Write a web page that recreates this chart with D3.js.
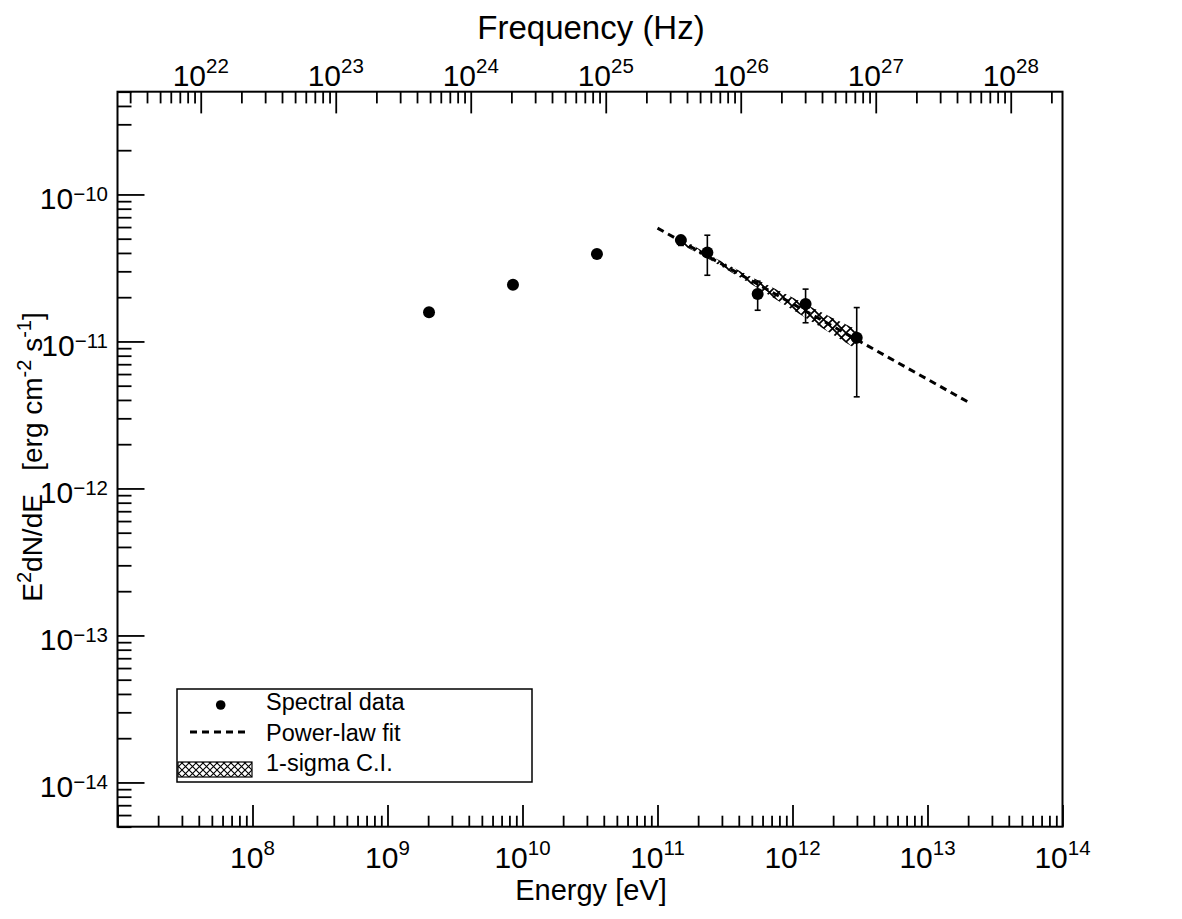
<!DOCTYPE html>
<html>
<head>
<meta charset="utf-8">
<script src="https://cdn.jsdelivr.net/npm/d3@7"></script>
<style>
body{margin:0;background:#fff;}
text{font-family:"Liberation Sans",Arial,Helvetica,sans-serif;fill:#000;}
</style>
</head>
<body>
<svg id="chart" width="1182" height="919"></svg>
<script>
// spectral points (eV, erg cm-2 s-1)
var energy = [2.03e9, 8.5e9, 3.56e10, 1.49e11, 2.34e11, 5.52e11, 1.25e12, 2.99e12];
var flux   = [1.58e-11, 2.43e-11, 3.93e-11, 4.89e-11, 4.03e-11, 2.10e-11, 1.80e-11, 1.06e-11];
var fluxLo = [null, null, null, 4.5e-11, 2.82e-11, 1.63e-11, 1.34e-11, 4.2e-12];
var fluxHi = [null, null, null, 5.2e-11, 5.28e-11, 2.57e-11, 2.27e-11, 1.70e-11];

// power-law fit end points
var fitE = [1e11, 2e13];
var fitF = [5.9e-11, 3.87e-12];

// 1-sigma band
var bandE  = [1.49e11, 2.5e11, 5e11, 1e12, 2e12, 3e12];
var bandLo = [4.59e-11, 3.56e-11, 2.44e-11, 1.64e-11, 1.11e-11, 8.8e-12];
var bandHi = [5.04e-11, 3.82e-11, 2.73e-11, 1.99e-11, 1.44e-11, 1.20e-11];

// tick labels (powers of ten)
var xTickExp   = [8, 9, 10, 11, 12, 13, 14];
var yTickExp   = [-10, -11, -12, -13, -14];
var topTickExp = [22, 23, 24, 25, 26, 27, 28];

var legendLabels = ["Spectral data", "Power-law fit", "1-sigma C.I."];

var hPlanck = 4.135667696e-15; // eV s

var L = 117.5, R = 1062.5, T = 91.7, B = 826.7;
var svg = d3.select("#chart");

var x = d3.scaleLog().domain([1e7, 1e14]).range([L, R]);
var y = d3.scaleLog().domain([5e-15, 5e-10]).range([B, T]);
var xTop = d3.scaleLog().domain([1e7 / hPlanck, 1e14 / hPlanck]).range([L, R]);

function minorTicks(dom){
    var out = [];
    var lo = Math.floor(Math.log10(dom[0])), hi = Math.ceil(Math.log10(dom[1]));
    for (var k = lo; k <= hi; k++){
        for (var m = 2; m <= 9; m++){
            var v = m * Math.pow(10, k);
            if (v >= dom[0] && v <= dom[1]) out.push(v);
        }
    }
    return out;
}
function pow10(list){ return list.map(function(e){ return Math.pow(10, e); }); }

function drawAxis(axis, tr){
    var g = svg.append("g").attr("transform", tr).call(axis);
    g.select(".domain").remove();
    g.selectAll("line").attr("stroke", "#000").attr("stroke-width", 1.8);
    return g;
}

// bottom
drawAxis(d3.axisBottom(x).tickValues(minorTicks(x.domain())).tickSize(-11).tickFormat(""), "translate(0," + B + ")");
drawAxis(d3.axisBottom(x).tickValues(pow10([7].concat(xTickExp))).tickSize(-21.7).tickFormat(""), "translate(0," + B + ")");
// top
drawAxis(d3.axisTop(xTop).tickValues(minorTicks(xTop.domain())).tickSize(-11.7).tickFormat(""), "translate(0," + T + ")");
drawAxis(d3.axisTop(xTop).tickValues(pow10(topTickExp)).tickSize(-21.7).tickFormat(""), "translate(0," + T + ")");
// left
drawAxis(d3.axisLeft(y).tickValues(minorTicks(y.domain())).tickSize(-14).tickFormat(""), "translate(" + L + ",0)");
drawAxis(d3.axisLeft(y).tickValues(pow10(yTickExp)).tickSize(-27).tickFormat(""), "translate(" + L + ",0)");

// frame
svg.append("rect").attr("x", L).attr("y", T).attr("width", R - L).attr("height", B - T)
    .attr("fill", "none").attr("stroke", "#000").attr("stroke-width", 2);

function powLabel(g, px, py, exp, anchor, rise){
    var t = g.append("text").attr("x", px).attr("y", py).attr("text-anchor", anchor)
        .attr("font-size", 30);
    t.append("tspan").text("10");
    t.append("tspan").attr("font-size", 20.5).attr("dy", -rise)
        .text(exp < 0 ? "\u2212" + (-exp) : exp);
}

var labels = svg.append("g");
xTickExp.forEach(function(e){ powLabel(labels, x(Math.pow(10, e)), 868.3, e, "middle", 13); });
topTickExp.forEach(function(e){ powLabel(labels, xTop(Math.pow(10, e)), 85.7, e, "middle", 12.5); });
yTickExp.forEach(function(e){ powLabel(labels, 108, y(Math.pow(10, e)) + 15, e, "end", 8); });

// titles
svg.append("text").attr("x", 591).attr("y", 39.3).attr("text-anchor", "middle")
    .attr("font-size", 33).text("Frequency (Hz)");
svg.append("text").attr("x", 591).attr("y", 900).attr("text-anchor", "middle")
    .attr("font-size", 29).text("Energy [eV]");

var yl = svg.append("text").attr("transform", "translate(42,457) rotate(-90)")
    .attr("text-anchor", "middle").attr("font-size", 28);
yl.append("tspan").text("E");
yl.append("tspan").attr("font-size", 20).attr("dy", -11).text("2");
yl.append("tspan").attr("dy", 11).text("dN/dE\u00a0\u00a0\u00a0[erg cm");
yl.append("tspan").attr("font-size", 20).attr("dy", -11).text("-2");
yl.append("tspan").attr("dy", 11).text(" s");
yl.append("tspan").attr("font-size", 20).attr("dy", -11).text("-1");
yl.append("tspan").attr("dy", 11).text("]");

// hatch patterns
var defs = svg.append("defs");
function hatch(id, s, w){
    defs.append("pattern").attr("id", id).attr("patternUnits", "userSpaceOnUse")
        .attr("width", s).attr("height", s)
        .append("path").attr("d", "M0,0L" + s + "," + s + "M" + s + ",0L0," + s)
        .attr("stroke", "#000").attr("stroke-width", w);
}
hatch("xhatch", 9, 1.7);
hatch("xhatchLeg", 7, 1.1);

// band
var band = bandE.map(function(e, i){ return {e: e, lo: bandLo[i], hi: bandHi[i]}; });
svg.append("path").datum(band)
    .attr("d", d3.area().x(function(d){ return x(d.e); })
        .y0(function(d){ return y(d.lo); }).y1(function(d){ return y(d.hi); }))
    .attr("fill", "url(#xhatch)").attr("stroke", "none");

// fit
var fit = fitE.map(function(e, i){ return [e, fitF[i]]; });
svg.append("path").datum(fit)
    .attr("d", d3.line().x(function(d){ return x(d[0]); }).y(function(d){ return y(d[1]); }))
    .attr("fill", "none").attr("stroke", "#000").attr("stroke-width", 3)
    .attr("stroke-dasharray", "7,5");

// error bars + points
var pts = energy.map(function(e, i){ return {e: e, f: flux[i], lo: fluxLo[i], hi: fluxHi[i]}; });
var eb = svg.append("g").attr("stroke", "#000").attr("stroke-width", 1.6);
pts.filter(function(d){ return d.lo != null; }).forEach(function(d){
    var cx = x(d.e);
    eb.append("line").attr("x1", cx).attr("x2", cx).attr("y1", y(d.hi)).attr("y2", y(d.lo));
    eb.append("line").attr("x1", cx - 3).attr("x2", cx + 3).attr("y1", y(d.hi)).attr("y2", y(d.hi));
    eb.append("line").attr("x1", cx - 3).attr("x2", cx + 3).attr("y1", y(d.lo)).attr("y2", y(d.lo));
});
svg.append("g").selectAll("circle").data(pts).enter().append("circle")
    .attr("cx", function(d){ return x(d.e); })
    .attr("cy", function(d){ return y(d.f); })
    .attr("r", 6).attr("fill", "#000");

// legend
var lg = svg.append("g");
lg.append("rect").attr("x", 177).attr("y", 689).attr("width", 355).attr("height", 93)
    .attr("fill", "#fff").attr("stroke", "#000").attr("stroke-width", 1.5);
lg.append("circle").attr("cx", 220.7).attr("cy", 705).attr("r", 4.8).attr("fill", "#000");
lg.append("line").attr("x1", 190).attr("x2", 247).attr("y1", 732).attr("y2", 732)
    .attr("stroke", "#000").attr("stroke-width", 3).attr("stroke-dasharray", "7,5");
lg.append("rect").attr("x", 178).attr("y", 762).attr("width", 74).attr("height", 15)
    .attr("fill", "url(#xhatchLeg)").attr("stroke", "#000").attr("stroke-width", 1.2);
lg.selectAll("text.lab").data(legendLabels).enter().append("text")
    .attr("class", "lab").attr("x", 266).attr("y", function(d, i){ return 710 + i * 30.5; })
    .attr("font-size", 23.5).text(function(d){ return d; });
</script>
</body>
</html>
